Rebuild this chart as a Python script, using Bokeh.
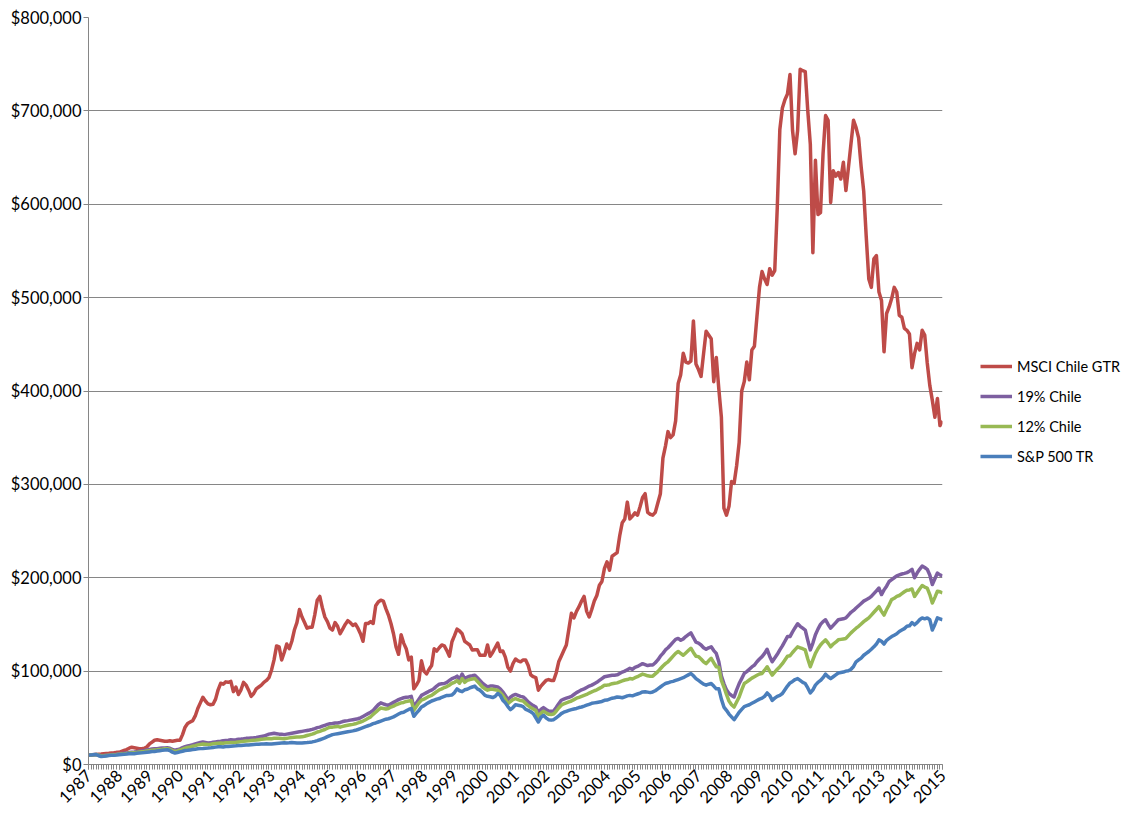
from bokeh.plotting import figure
from bokeh.models import (FixedTicker, NumeralTickFormatter, Range1d, Legend,
                          LegendItem, ColumnDataSource)
from bokeh.layouts import row
from bokeh.embed import file_html
from bokeh.resources import INLINE
import math

# ---- data (values in $ thousands, monthly) ----
year_labels = [str(y) for y in range(1987, 2016)]

msci = [
    10, 10.2, 10.5, 10.8, 11, 11.2, 11.5, 11.8, 12, 12.3, 12.5, 13,
    13, 14, 15, 16, 17.5, 18.5, 18, 17.5, 17, 17, 17.5, 19,
    22, 24, 26, 26.5, 26, 25.5, 25, 25, 25.5, 25, 25.5, 26,
    26, 32, 40, 44, 45.5, 47, 52, 60, 66, 72, 68, 65,
    64, 64.5, 70, 80, 87, 86, 88.5, 88, 89, 78, 83, 75,
    80, 88, 85, 79.6, 73, 76, 81, 83, 85, 88, 90, 93,
    101, 112, 127, 126, 112, 120, 129, 124, 132, 144, 152, 166,
    158, 152, 146, 147, 147, 160, 176, 180, 168, 158, 153, 146,
    144, 152, 148, 140, 145, 150, 154, 152, 149, 150.5, 146, 140,
    132, 151, 151, 153, 151, 170, 174, 176, 175, 167, 160, 151,
    140, 126, 118, 139, 130, 124, 112, 115, 81, 85, 90, 111,
    100, 97, 102, 106, 124, 121.5, 125, 128, 127, 122, 116, 131.5,
    138, 145, 143, 140, 132, 130, 128, 122.6, 123, 123, 117, 117,
    117, 128, 116, 120, 125, 130, 121, 121.5, 115, 104, 100, 108,
    113, 111, 110, 112, 112, 106, 96, 94, 93, 79.6, 84, 87,
    90, 91, 90, 90, 98, 110, 116, 122, 128, 145, 162, 157,
    164, 169, 175, 180, 164, 158, 166, 175, 181, 192, 196, 210,
    217, 208, 223, 225, 227, 245, 259, 263, 281, 263, 266, 269.5,
    267, 276, 286, 290, 270, 268, 267, 270, 280, 290, 328, 341,
    356.5, 350, 353, 368, 408, 417.5, 440.5, 431, 430, 432, 475, 429,
    423, 415.6, 440, 464, 460, 456, 410, 436, 402, 372, 274.5, 267,
    276.5, 303, 301, 320, 345, 400, 410, 431, 412, 444, 448, 480,
    511, 528, 520, 514, 531, 524, 529, 597, 680, 703, 712, 718,
    739, 679, 654, 679, 744.5, 743, 742, 700, 664, 548, 647, 589,
    591, 654, 695, 690, 602, 636, 630, 634, 627, 645, 614.6, 639.5,
    665, 690, 682, 671, 640, 614, 565, 520, 511, 541.6, 545, 506,
    497, 442, 483, 490, 499, 511, 506, 481, 479, 467, 465, 461,
    425, 440, 451, 444, 465, 460, 430, 406, 390, 372, 392, 363,
    368,
]

chile19 = [
    10, 10.3, 10.6, 10.8, 10.2, 9.4, 9.6, 9.9, 10.2, 10.5, 10.8, 11.0,
    11.4, 11.8, 12.0, 12.4, 12.8, 13.2, 13.4, 13.8, 14.2, 14.6, 15.0, 15.5,
    16.0, 16.5, 17.0, 17.0, 17.3, 17.6, 17.8, 18.0, 17.5, 16.0, 15.4, 16.0,
    16.8, 18.0, 19.0, 19.8, 20.5, 21.2, 22.0, 22.8, 23.5, 24.0, 23.5, 23.0,
    23.2, 23.8, 24.2, 24.6, 25.0, 25.5, 25.8, 26.0, 26.5, 26.2, 26.5, 27.0,
    27.2, 27.5, 28.0, 28.0, 28.3, 28.6, 29.0, 29.5, 30.0, 30.5, 31.5, 32.5,
    33, 33.5, 33, 32.5, 32.5, 32, 32.5, 33, 33.5, 34, 34.5, 35,
    35.5, 36, 36.5, 37, 37.6, 38.5, 39.5, 40, 41, 42, 43, 43.7,
    44, 44.5, 44.4, 45, 46, 46.6, 47, 47.5, 48, 48.5, 49, 50,
    51.5, 53, 54.5, 56, 58, 61, 64, 66, 65, 64, 63.4, 65,
    66.5, 68, 69.5, 70.6, 71.5, 72, 72.4, 73, 61.6, 66, 70, 74,
    75.5, 77, 78.5, 79.6, 81.5, 84, 86, 86.5, 86.7, 88, 90, 92,
    93, 94.6, 91, 96.8, 92, 93.5, 94.5, 95, 95.7, 93, 90, 87,
    85, 83, 84, 84, 83.5, 83, 81, 77.8, 74, 69.5, 72, 74,
    75, 74, 73, 72.4, 70, 67, 65, 63, 61.6, 55, 59, 61,
    59, 57.3, 57, 57.3, 61, 65, 68.8, 70, 71, 72, 73, 75,
    77, 78.5, 80, 81, 82.5, 84, 85, 86.5, 88, 90, 92, 94,
    94.5, 95, 95.5, 95.7, 96, 97.5, 99, 100, 101.5, 103, 102, 104,
    105, 106.5, 108, 107, 106, 106.5, 106.5, 109, 112, 116, 119, 122.7,
    125, 128, 131, 134, 135, 133, 134.5, 137, 139, 141, 136, 131,
    130, 128, 125, 123.4, 125, 126, 122, 119, 110, 95, 86.7, 80,
    76, 74, 72.3, 80, 86.7, 92, 97.5, 99.5, 102, 104.5, 106.5, 110,
    113, 115.5, 119, 123.4, 116, 110, 114, 118, 122.7, 127, 132, 137,
    137, 142, 146.5, 150.7, 148, 146, 144, 133, 122.7, 130, 139, 145,
    150, 153, 155, 150, 146, 149, 152, 155, 155.5, 156, 157, 160,
    163, 165, 167.6, 170, 172.5, 175, 176.5, 178, 180, 183, 186, 189,
    182, 187, 191, 196, 198, 200, 202, 203, 204, 204.7, 205.5, 207,
    209, 200, 205, 209, 212.6, 211, 209, 203, 192.8, 199, 205, 203,
    202,
]

chile12 = [
    10, 10.3, 10.5, 10.7, 9.9, 9.1, 9.3, 9.6, 9.9, 10.2, 10.5, 10.7,
    11.0, 11.3, 11.5, 11.8, 12.2, 12.5, 12.6, 13.0, 13.4, 13.7, 14.0, 14.4,
    14.8, 15.2, 15.6, 15.8, 16.1, 16.4, 16.8, 17.0, 16.4, 14.8, 14.0, 14.6,
    15.5, 16.5, 17.5, 18.2, 18.8, 19.5, 20.2, 21.0, 21.5, 22.0, 21.8, 21.5,
    21.8, 22.2, 22.5, 22.8, 23.0, 22.8, 23.2, 23.4, 23.6, 23.5, 23.8, 24.2,
    24.5, 24.8, 25.2, 25.3, 25.6, 25.9, 26.2, 26.6, 27.0, 27.2, 27.6, 27.8,
    27.6, 28, 28.2, 28.0, 27.8, 27.6, 28, 28.5, 29, 29.2, 29.4, 29.4,
    29.6, 30.2, 31, 31.8, 32.6, 33.5, 34.8, 35.5, 36.5, 37.5, 38.8, 40,
    40, 40.5, 40.8, 40, 40.8, 41.5, 42, 42.5, 43, 43.6, 44.5, 45.5,
    46.5, 48, 49.5, 51, 53.8, 56, 58.5, 60.5, 60, 59.5, 60, 61.5,
    62.5, 64, 65, 66, 66.5, 67.5, 68, 68.5, 58, 62, 66, 69,
    70, 71.5, 73, 74, 76, 78, 80, 81, 82.4, 83.5, 85, 87,
    88, 90, 87, 92, 88, 90, 91, 91.5, 92, 89, 86, 83,
    81, 79.6, 80.5, 80.5, 80, 79.5, 77, 74, 70, 65, 67.5, 69.5,
    70.5, 69.5, 68.5, 68, 65.5, 63, 61, 59.5, 58, 51, 55, 57,
    55.5, 53.8, 53.5, 54, 57, 60.5, 63.4, 65, 66, 67, 68, 69.5,
    71, 72, 73, 74, 75, 76.5, 77.7, 79, 80, 81.5, 83, 85,
    85, 85.5, 86.5, 87, 87.4, 88.5, 89.5, 90.5, 91, 92, 91.5, 93,
    94, 95.5, 96.8, 96, 95, 94.6, 94.6, 97, 99.5, 102.5, 105.5, 108,
    110, 113, 116, 119, 121, 119, 117, 119.5, 122, 124.5, 120, 116,
    115.5, 113, 110, 108, 111, 113.7, 109, 104.7, 104, 90, 83, 75,
    68, 64, 61.5, 67, 72.3, 80, 86.7, 88.5, 90.5, 92.5, 94, 95.5,
    97, 97.5, 101, 104.7, 100, 95.7, 99, 102, 104.7, 108, 112, 116,
    116.5, 120, 123, 126, 125, 124, 122.7, 113, 104.7, 112, 119, 124,
    128, 131, 133.5, 130, 126, 129, 131, 133.5, 134, 134.5, 135, 138,
    141, 143.5, 146, 148, 150.5, 153, 155, 157, 160, 163, 166, 169,
    164, 160, 166, 171, 176.6, 178, 180, 181, 183, 185, 186.7, 187,
    188, 180, 184, 188, 191.7, 190, 189, 182, 173, 179, 185.6, 185,
    183.8,
]

sp500 = [
    10, 10.3, 10.5, 10.6, 9.4, 8.6, 8.9, 9.2, 9.5, 9.8, 10.0, 10.2,
    10.5, 10.8, 11.0, 11.2, 11.5, 11.8, 11.6, 12.0, 12.3, 12.5, 12.8, 13.2,
    13.5, 13.8, 14.0, 14.4, 14.8, 15.2, 15.6, 15.8, 15.0, 13.2, 12.2, 12.8,
    13.5, 14.2, 15.0, 15.2, 15.6, 16.0, 16.4, 16.8, 17.0, 17.2, 17.5, 17.6,
    17.8, 18.2, 18.6, 19.0, 19.0, 18.7, 19.2, 19.4, 19.6, 19.8, 20.0, 20.4,
    20.4, 20.6, 20.8, 21.0, 21.2, 21.4, 21.6, 21.8, 22.0, 22.0, 22.2, 22.0,
    22.0, 22.3, 22.6, 22.8, 23.0, 23.2, 23.0, 23.2, 23.5, 23.4, 23.0, 23.0,
    23.0, 23.3, 23.5, 23.8, 24.2, 24.8, 25.6, 26.5, 27.5, 28.5, 29.8, 31.0,
    32, 32.5, 33, 33.5, 34, 34.5, 35, 35.5, 36, 36.6, 37.5, 38.5,
    39.5, 40.5, 41.5, 42.5, 43.7, 44.5, 45.5, 46.5, 47.5, 48.5, 49, 50,
    51, 52.5, 54, 55.5, 56, 57.5, 59, 60, 51.6, 55, 58, 61.6,
    63, 65, 66.5, 68, 69, 70, 70.6, 72, 73, 74, 74, 74.5,
    77, 81, 79, 78, 80, 80.6, 82, 83, 84, 81, 79.6, 77,
    74, 73, 72.5, 71.7, 73, 76, 74, 68.8, 66, 62, 58.8, 61,
    64, 63.5, 63, 62, 59, 58, 56.5, 54.5, 50, 45.5, 50.5, 52.7,
    50, 48, 47.5, 48, 50, 52, 54.5, 56, 57, 58, 58.8, 59.5,
    60, 61, 61.6, 62.5, 63.5, 64.5, 65.5, 66, 66.5, 67, 67.5, 68.7,
    69, 70, 71, 71.5, 72.3, 72, 71.5, 72.5, 73.5, 74, 73.5, 74.5,
    75.5, 76.5, 77.7, 78, 77.5, 77, 77.7, 79, 81, 83, 85, 86.7,
    87.5, 88.5, 89, 90, 91, 92, 93, 94.5, 96, 97.5, 95, 92,
    90, 88, 86, 85, 86, 86.7, 84, 81, 81, 70, 61.5, 58,
    54, 51, 48, 52, 56, 59, 62, 63, 64, 65.5, 67, 68.5,
    70, 71, 73, 76.6, 74, 68.7, 71, 73, 74, 76, 80, 84,
    87.4, 89, 91, 92, 90, 88, 86.7, 82, 76.6, 80, 85, 88,
    90, 93, 96.8, 94, 92, 94, 96, 98, 98.5, 99, 100, 100.5,
    102, 105, 110, 112, 114, 117, 119, 121, 123.4, 126, 129, 133.5,
    132, 129, 133, 135, 137, 138.5, 140, 142.4, 144, 145.5, 148, 148.5,
    152, 149.6, 152, 155, 157, 156, 157, 155, 144, 150, 157, 156,
    155,
]

series_names = ["MSCI Chile GTR", "19% Chile", "12% Chile", "S&P 500 TR"]
series_colors = ["#BE4B48", "#7D5FA0", "#98B954", "#4A7EBB"]
series_values = [msci, chile19, chile12, sp500]

n = len(msci)
months = list(range(n))

FONT = "Lato"
GRAY = "#868686"
H = 818

p = figure(width=950, height=H, output_backend="svg", toolbar_location=None,
           x_range=Range1d(0, n - 1), y_range=Range1d(0, 800000),
           min_border_left=88, min_border_right=8, min_border_top=17,
           min_border_bottom=54)
p.outline_line_color = None
p.background_fill_color = "white"
p.border_fill_color = "white"

sources = []
for name, color, vals in zip(series_names, series_colors, series_values):
    src = ColumnDataSource(dict(x=months, y=[v * 1000 for v in vals]))
    sources.append(src)
    p.line("x", "y", source=src, line_color=color, line_width=3.5,
           line_join="round")

# x axis: yearly labels every 12 months, monthly minor ticks
major = list(range(0, n, 12))
p.xaxis.ticker = FixedTicker(ticks=major, minor_ticks=months)
p.xaxis.major_label_overrides = {m: year_labels[k] for k, m in enumerate(major)}
p.xaxis.major_label_orientation = math.pi / 4
p.xaxis.major_tick_in = 0
p.xaxis.major_tick_out = 5
p.xaxis.minor_tick_in = 0
p.xaxis.minor_tick_out = 5
p.xaxis.major_tick_line_color = GRAY
p.xaxis.minor_tick_line_color = GRAY
p.xaxis.axis_line_color = GRAY
p.xaxis.major_label_standoff = 3

p.yaxis.ticker = FixedTicker(ticks=list(range(0, 800001, 100000)))
p.yaxis.formatter = NumeralTickFormatter(format="$0,0")
p.yaxis.major_tick_in = 0
p.yaxis.major_tick_out = 5
p.yaxis.minor_tick_line_color = None
p.yaxis.major_tick_line_color = GRAY
p.yaxis.axis_line_color = GRAY
p.yaxis.major_label_standoff = 2

for ax in (p.xaxis, p.yaxis):
    ax.major_label_text_font = FONT
    ax.major_label_text_color = "#000000"
    ax.major_label_text_font_size = "16.5px"

p.xgrid.grid_line_color = None
p.ygrid.grid_line_color = GRAY
p.ygrid.grid_line_width = 1

# legend panel to the right of the chart (its lines share the same data,
# but the panel's ranges keep them out of view; only the legend shows)
pl = figure(width=180, height=H, output_backend="svg", toolbar_location=None,
            x_range=Range1d(0, 1), y_range=Range1d(-2, -1), min_border=0)
pl.axis.visible = False
pl.grid.grid_line_color = None
pl.outline_line_color = None
pl.border_fill_color = "white"
items = []
for name, color, src in zip(series_names, series_colors, sources):
    r = pl.line("x", "y", source=src, line_color=color, line_width=3.5)
    items.append(LegendItem(label=name, renderers=[r]))
legend = Legend(items=items, location=(30, 298), orientation="vertical",
                glyph_width=32, glyph_height=20, label_height=20,
                label_standoff=5, spacing=10, padding=0, margin=0,
                border_line_color=None, background_fill_alpha=0,
                label_text_font=FONT, label_text_font_size="14.5px",
                label_text_color="#000000")
pl.add_layout(legend, "center")

layout = row(p, pl, spacing=0)
open("out.html", "w").write(file_html(layout, INLINE))
